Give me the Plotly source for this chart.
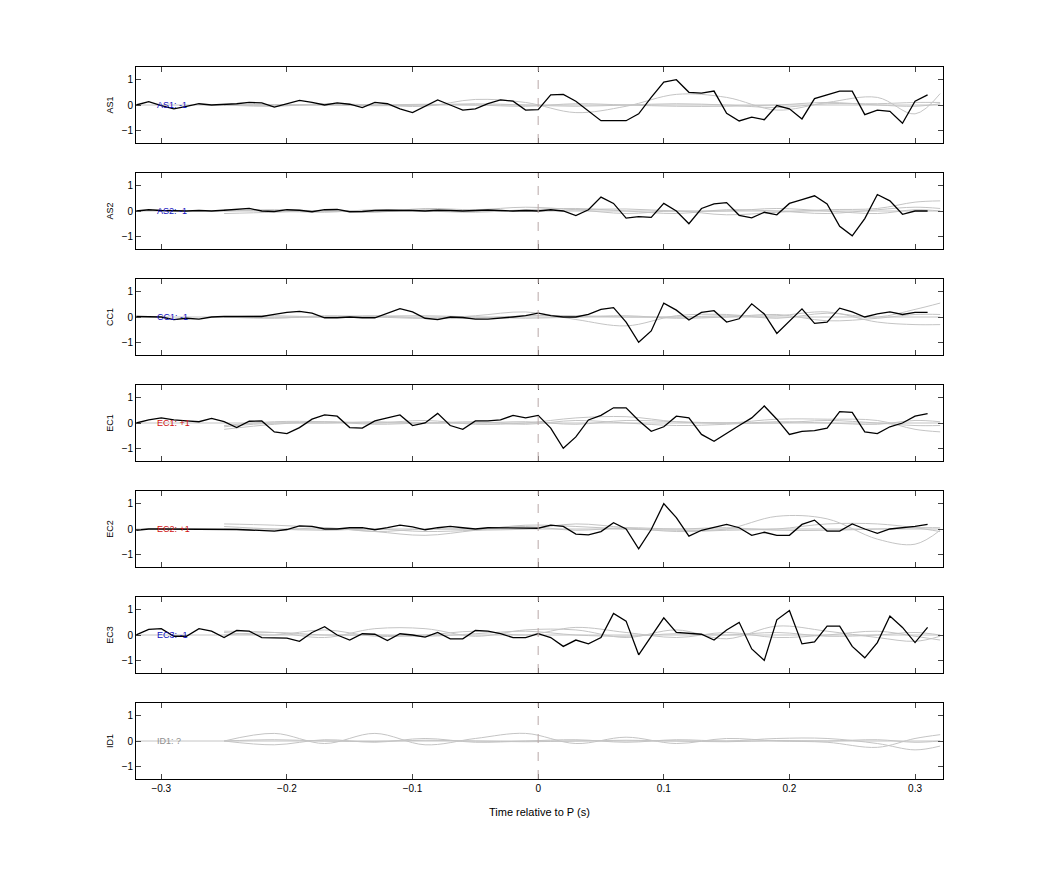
import plotly.graph_objects as go

t_black = [round(-0.32 + 0.01 * i, 2) for i in range(64)]

names = ["AS1", "AS2", "CC1", "EC1", "EC2", "EC3", "ID1"]
labels = ["AS1: -1", "AS2: -1", "CC1: -1", "EC1: +1", "EC2: +1", "EC3: -1", "ID1: ?"]
label_colors = ["#1010c0", "#1010c0", "#1010c0", "#d01010", "#d01010", "#1010c0", "#909090"]

as1 = [0, 0.13, -0.02, -0.15, -0.05, 0.05, 0.0, 0.02, 0.05, 0.1, 0.08, -0.08, 0.05, 0.18, 0.1, 0.0,
       0.08, 0.03, -0.1, 0.1, 0.05, -0.15, -0.3, -0.05, 0.2, 0.0, -0.2, -0.15, 0.05, 0.2, 0.15, -0.2, -0.18,
       0.4, 0.42, 0.15, -0.25, -0.62, -0.62, -0.62, -0.35, 0.3, 0.9, 1.0, 0.5, 0.47, 0.55, -0.33, -0.63,
       -0.48, -0.58, -0.02, -0.15, -0.55, 0.25, 0.4, 0.55, 0.55, -0.38, -0.2, -0.25, -0.72, 0.15, 0.4]
as2 = [0, 0.05, 0.02, 0.0, 0.0, 0.02, 0.0, 0.03, 0.05, 0.1, 0.0, -0.02, 0.05, 0.03, -0.03, 0.05,
       0.06, -0.03, -0.02, 0.02, 0.03, 0.04, 0.02, 0.0, 0.03, 0.02, 0.0, 0.02, 0.04, 0.02, 0.0, 0.02, 0.0,
       0.05, 0.0, -0.18, 0.05, 0.55, 0.3, -0.28, -0.22, -0.25, 0.3, 0.0, -0.5, 0.1, 0.28, 0.33, -0.17,
       -0.27, -0.05, -0.15, 0.3, 0.45, 0.6, 0.28, -0.6, -0.98, -0.3, 0.65, 0.4, -0.13, 0.0, 0.0]
cc1 = [0.02, 0.02, 0.0, -0.1, -0.05, -0.08, 0.0, 0.02, 0.02, 0.0, 0.02, 0.1, 0.18, 0.22, 0.15, -0.03,
       -0.03, 0.0, -0.03, -0.03, 0.15, 0.33, 0.2, -0.05, -0.1, 0.0, -0.02, -0.08, -0.08, -0.05, 0.0, 0.05, 0.15,
       0.05, 0.0, 0.0, 0.1, 0.3, 0.37, -0.2, -1.0, -0.55, 0.55, 0.27, -0.12, 0.18, 0.25, -0.2, -0.07,
       0.52, 0.12, -0.65, -0.15, 0.32, -0.25, -0.2, 0.35, 0.2, 0.0, 0.12, 0.2, 0.1, 0.18, 0.18]
ec1 = [0.0, 0.12, 0.2, 0.12, 0.08, 0.05, 0.18, 0.05, -0.18, 0.07, 0.08, -0.35, -0.42, -0.18, 0.15, 0.32,
       0.27, -0.18, -0.2, 0.08, 0.2, 0.32, -0.1, 0.0, 0.38, -0.1, -0.25, 0.08, 0.08, 0.12, 0.3, 0.2, 0.3,
       -0.2, -1.0, -0.55, 0.12, 0.3, 0.6, 0.6, 0.1, -0.33, -0.15, 0.27, 0.2, -0.45, -0.72, -0.4, -0.1,
       0.2, 0.67, 0.15, -0.45, -0.33, -0.3, -0.2, 0.45, 0.42, -0.35, -0.42, -0.15, 0.0, 0.27, 0.37]
ec2 = [-0.05, 0.0, 0.0, 0.0, 0.0, 0.0, 0.0, 0.0, -0.02, -0.04, -0.06, -0.08, -0.02, 0.12, 0.1, 0.0,
       0.0, 0.05, 0.05, -0.03, 0.05, 0.15, 0.08, -0.03, 0.05, 0.1, 0.05, 0.0, 0.05, 0.05, 0.03, 0.05, 0.03,
       0.15, 0.1, -0.2, -0.23, -0.1, 0.25, 0.0, -0.78, -0.02, 1.0, 0.45, -0.28, -0.05, 0.05, 0.18, 0.05,
       -0.25, -0.13, -0.25, -0.25, 0.18, 0.35, -0.08, -0.08, 0.2, 0.0, -0.17, 0.0, 0.05, 0.1, 0.18]
ec3 = [0.0, 0.22, 0.25, -0.05, -0.05, 0.25, 0.15, -0.1, 0.18, 0.15, -0.1, -0.12, -0.12, -0.25, 0.1, 0.33,
       0.0, -0.2, 0.05, 0.03, -0.22, 0.05, 0.0, -0.08, 0.1, -0.15, -0.15, 0.18, 0.15, 0.05, -0.1, -0.1, 0.05,
       -0.1, -0.45, -0.2, -0.35, -0.1, 0.85, 0.55, -0.78, -0.05, 0.68, 0.1, 0.05, 0.03, -0.2, 0.2, 0.5,
       -0.55, -1.0, 0.6, 0.97, -0.35, -0.27, 0.35, 0.35, -0.45, -0.9, -0.3, 0.75, 0.3, -0.3, 0.3]
black = [as1, as2, cc1, ec1, ec2, ec3, None]

t_gray = [-0.25, -0.21, -0.17, -0.13, -0.09, -0.05, -0.01, 0.03, 0.07, 0.11, 0.15, 0.19, 0.23, 0.27, 0.30, 0.32]
gray = [
    [[0.0, -0.05, 0.05, 0.0, -0.05, 0.22, 0.1, -0.3, -0.05, 0.42, 0.3, -0.2, 0.1, 0.3, -0.35, 0.45],
     [0.0, 0.02, 0.0, -0.03, 0.0, 0.05, 0.0, -0.05, 0.0, 0.05, 0.0, -0.1, 0.05, 0.05, 0.1, 0.1],
     [0.0, -0.03, 0.02, 0.0, 0.03, 0.0, -0.05, 0.05, 0.0, -0.05, -0.05, 0.0, 0.1, 0.0, -0.05, 0.05]],
    [[-0.1, -0.05, 0.0, -0.05, 0.1, 0.05, 0.15, 0.05, -0.1, 0.0, -0.15, -0.05, 0.05, 0.1, 0.35, 0.4],
     [0.05, 0.0, -0.05, 0.05, 0.0, -0.05, 0.05, 0.1, 0.0, -0.1, 0.05, 0.0, -0.1, 0.05, 0.15, 0.1],
     [0.0, 0.05, 0.0, -0.03, 0.05, 0.0, -0.02, 0.05, 0.08, 0.0, 0.0, 0.1, 0.0, -0.1, 0.05, 0.0]],
    [[0.0, -0.05, 0.05, 0.0, -0.05, 0.05, 0.2, -0.1, -0.35, 0.05, 0.1, -0.05, 0.15, 0.0, 0.3, 0.55],
     [0.0, 0.05, 0.0, 0.05, -0.05, -0.05, 0.05, 0.05, 0.0, 0.0, 0.05, 0.05, 0.2, -0.2, -0.3, -0.3],
     [0.0, -0.03, 0.0, 0.03, 0.05, 0.0, -0.05, 0.0, 0.05, -0.05, 0.0, 0.1, -0.15, -0.05, 0.1, 0.1]],
    [[-0.25, -0.05, 0.05, 0.0, 0.1, -0.05, 0.0, 0.2, 0.25, 0.05, 0.0, 0.15, 0.15, 0.1, -0.25, -0.35],
     [-0.15, 0.0, 0.0, 0.05, 0.0, 0.05, -0.05, 0.1, 0.0, -0.1, -0.05, 0.05, 0.0, -0.05, 0.1, 0.05],
     [-0.1, 0.05, 0.05, -0.05, 0.0, 0.0, 0.05, -0.05, 0.1, 0.05, 0.0, 0.0, 0.1, 0.0, -0.1, -0.1]],
    [[0.2, 0.15, 0.05, -0.1, -0.25, -0.05, 0.15, 0.1, 0.0, -0.05, 0.0, 0.5, 0.4, -0.4, -0.6, -0.05],
     [0.1, 0.0, -0.05, 0.0, -0.1, -0.05, 0.0, 0.2, 0.05, -0.1, -0.05, 0.0, 0.2, 0.2, 0.05, -0.1],
     [0.0, -0.05, 0.05, -0.1, 0.0, 0.0, 0.1, -0.05, 0.05, 0.0, 0.05, -0.05, -0.05, 0.0, 0.05, 0.05]],
    [[0.15, 0.1, -0.1, 0.25, 0.25, -0.05, 0.2, 0.2, -0.1, 0.2, -0.15, 0.35, 0.15, -0.1, -0.25, -0.05],
     [0.1, 0.0, 0.2, -0.05, 0.0, 0.15, 0.0, 0.3, 0.1, -0.1, 0.1, -0.1, 0.0, 0.15, -0.05, -0.2],
     [0.0, 0.1, 0.0, 0.0, -0.05, 0.05, 0.15, 0.0, -0.05, 0.05, 0.0, 0.1, -0.05, 0.0, 0.1, 0.0]],
    [[0.0, 0.3, -0.1, 0.3, -0.15, 0.1, 0.3, -0.1, 0.15, -0.1, 0.1, 0.0, -0.05, -0.25, 0.1, 0.25],
     [0.0, -0.15, 0.05, -0.05, 0.1, -0.05, 0.0, 0.05, -0.05, 0.05, 0.0, 0.1, 0.1, -0.1, -0.35, -0.2],
     [0.0, 0.05, 0.0, -0.02, 0.03, 0.0, -0.03, 0.0, 0.03, 0.0, -0.03, 0.02, 0.0, 0.05, -0.05, 0.0]],
]

fig = go.Figure()
H = 875
for i in range(7):
    ax = "" if i == 0 else str(i + 1)
    top = 59 + 106 * i
    bot = 135 + 106 * i
    for g in gray[i]:
        fig.add_trace(go.Scatter(x=t_gray, y=g, mode="lines", line=dict(color="#c4c4c4", width=1, shape="spline"),
                                 xaxis="x" + ax, yaxis="y" + ax, showlegend=False, hoverinfo="skip"))
    fig.add_trace(go.Scatter(x=[-0.32, 0.32], y=[0, 0], mode="lines", line=dict(color="#c4c4c4", width=1),
                             xaxis="x" + ax, yaxis="y" + ax, showlegend=False, hoverinfo="skip"))
    if black[i] is not None:
        fig.add_trace(go.Scatter(x=t_black, y=black[i], mode="lines", line=dict(color="black", width=1.3),
                                 xaxis="x" + ax, yaxis="y" + ax, showlegend=False))
    fig.add_shape(type="line", x0=0, x1=0, y0=-1.5, y1=1.5, xref="x" + ax, yref="y" + ax,
                  line=dict(color="#b8a8a8", width=1, dash="dash"))
    fig.add_annotation(x=-0.305, y=0, xref="x" + ax, yref="y" + ax, text=labels[i], showarrow=False,
                       xanchor="left", font=dict(size=9, color=label_colors[i]))
    fig.layout["xaxis" + ax] = dict(domain=[0.123, 0.897], anchor="y" + ax, range=[-0.32, 0.322],
                                    tickvals=[-0.3, -0.2, -0.1, 0, 0.1, 0.2, 0.3],
                                    showticklabels=(i == 6), ticks="inside", ticklen=5,
                                    showline=True, mirror="ticks", linecolor="black", linewidth=1,
                                    showgrid=False, zeroline=False, tickfont=dict(size=10),
                                    title=dict(text="Time relative to P (s)", font=dict(size=11)) if i == 6 else None)
    fig.layout["yaxis" + ax] = dict(domain=[1 - bot / H, 1 - top / H], anchor="x" + ax, range=[-1.5, 1.5],
                                    tickvals=[-1, 0, 1], ticks="inside", ticklen=5,
                                    showline=True, mirror="ticks", linecolor="black", linewidth=1,
                                    showgrid=False, zeroline=False, tickfont=dict(size=10),
                                    title=dict(text=names[i], font=dict(size=9), standoff=6))

fig.update_layout(width=1042, height=875, margin=dict(l=0, r=0, t=0, b=0),
                  plot_bgcolor="white", paper_bgcolor="white",
                  font=dict(family="Liberation Sans, Arial, sans-serif", color="black"))
fig.write_html("out.html")
